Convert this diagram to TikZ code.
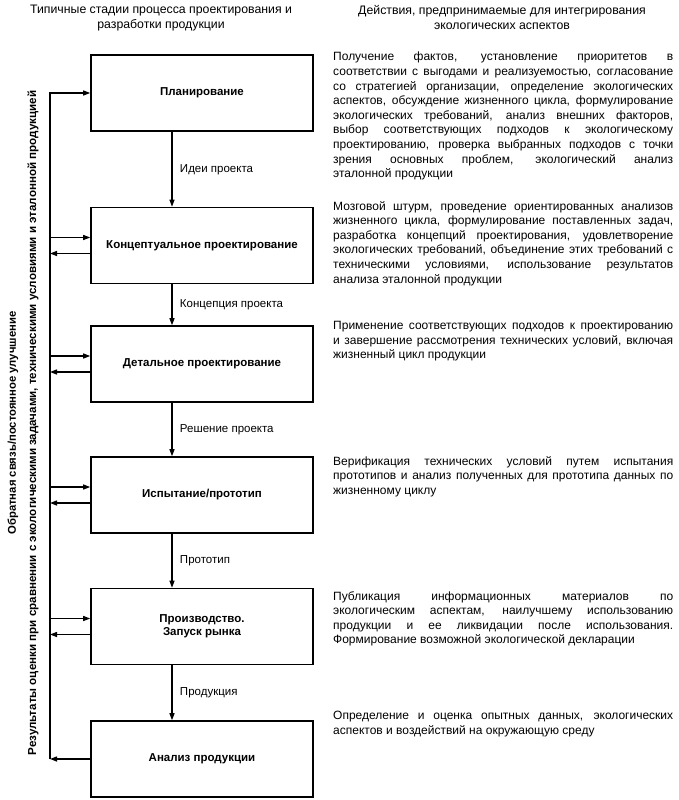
\documentclass[tikz,border=0pt]{standalone}
\usepackage{fontspec}
\setmainfont{Liberation Sans}
\usetikzlibrary{positioning, arrows.meta}
\tolerance=9999
\tikzset{
>={Triangle[length=7pt, width=5pt]}, % filled heads as in the scan
stage/.style={draw, line width=1.6pt, minimum width=222pt, minimum height=76pt, align=center, font=\bfseries\fontsize{11.5}{13}\selectfont}, % the stage boxes
flow/.style={->, line width=1.3pt}, % every arrow of the scheme
flowlabel/.style={right=4pt, font=\fontsize{11.5}{13}\selectfont}, % text beside the downward arrows
note/.style={anchor=north west, text width=340pt, align=justify, inner sep=0pt, font=\fontsize{12}{14.6}\selectfont}, % descriptions on the right
heading/.style={anchor=north, align=center, font=\fontsize{12.3}{15}\selectfont}, % column titles
sidelabel/.style={rotate=90, font=\bfseries\fontsize{11.6}{13}\selectfont}, % vertical feedback texts
}

\begin{document}
\begin{tikzpicture}[x=1pt, y=-1pt]
\useasboundingbox (0,0) rectangle (678,800);
\node[heading] (leftHead) at (161,2) {Типичные стадии процесса проектирования и\\разработки продукции};
\node[heading] (rightHead) at (502,2) {Действия, предпринимаемые для интегрирования\\экологических аспектов};

\node[stage] (plan) at (202,93) {Планирование};
\node[stage] (concept) at (202,245.5) {Концептуальное проектирование};
\node[stage] (detail) at (202,364) {Детальное проектирование};
\node[stage] (test) at (202,495) {Испытание/прототип};
\node[stage] (prod) at (202,626.5) {Производство.\\Запуск рынка};
\node[stage] (analysis) at (202,759) {Анализ продукции};

\draw[flow] ([xshift=-30pt]plan.south) -- node[flowlabel] {Идеи проекта} ([xshift=-30pt]concept.north);
\draw[flow] ([xshift=-30pt]concept.south) -- node[flowlabel] {Концепция проекта} ([xshift=-30pt]detail.north);
\draw[flow] ([xshift=-30pt]detail.south) -- node[flowlabel] {Решение проекта} ([xshift=-30pt]test.north);
\draw[flow] ([xshift=-30pt]test.south) -- node[flowlabel] {Прототип} ([xshift=-30pt]prod.north);
\draw[flow] ([xshift=-30pt]prod.south) -- node[flowlabel] {Продукция} ([xshift=-30pt]analysis.north);

% feedback bus on the left
\coordinate (busTop) at (50,93);
\coordinate (busBot) at (50,759);
\draw[flow] (busBot) -- (busTop) -- (plan.west);
\draw[flow] (analysis.west) -- (busBot);
\foreach \s in {concept, detail, test, prod} {
\draw[flow] ([yshift=8pt]\s.west -| busTop) -- ([yshift=8pt]\s.west);
\draw[flow] ([yshift=-8pt]\s.west) -- ([yshift=-8pt]\s.west -| busTop);
}
\node[sidelabel, font=\bfseries\fontsize{11.3}{13}\selectfont] (fbText) at (13,423) {Обратная связь/постоянное улучшение};
\node[sidelabel] (fbResult) at (33,423) {Результаты оценки при сравнении с экологическими задачами, техническими условиями и эталонной продукцией};

% actions for each stage
\node[note] (planNote) at (333,52) {Получение фактов, установление приоритетов в\linebreak
соответствии с выгодами и реализуемостью, согласование\linebreak
со стратегией организации, определение экологических\linebreak
аспектов, обсуждение жизненного цикла, формулирование\linebreak
экологических требований, анализ внешних факторов,\linebreak
выбор соответствующих подходов к экологическому\linebreak
проектированию, проверка выбранных подходов с точки\linebreak
зрения основных проблем, экологический анализ\linebreak
эталонной продукции};
\node[note] (conceptNote) at (333,201) {Мозговой штурм, проведение ориентированных анализов\linebreak
жизненного цикла, формулирование поставленных задач,\linebreak
разработка концепций проектирования, удовлетворение\linebreak
экологических требований, объединение этих требований с\linebreak
техническими условиями, использование результатов\linebreak
анализа эталонной продукции};
\node[note] (detailNote) at (333,321) {Применение соответствующих подходов к проектированию\linebreak
и завершение рассмотрения технических условий, включая\linebreak
жизненный цикл продукции};
\node[note] (testNote) at (333,456) {Верификация технических условий путем испытания\linebreak
прототипов и анализ полученных для прототипа данных по\linebreak
жизненному циклу};
\node[note] (prodNote) at (333,591) {Публикация информационных материалов по\linebreak
экологическим аспектам, наилучшему использованию\linebreak
продукции и ее ликвидации после использования.\linebreak
Формирование возможной экологической декларации};
\node[note] (analysisNote) at (333,711) {Определение и оценка опытных данных, экологических\linebreak
аспектов и воздействий на окружающую среду};
\end{tikzpicture}
\end{document}
